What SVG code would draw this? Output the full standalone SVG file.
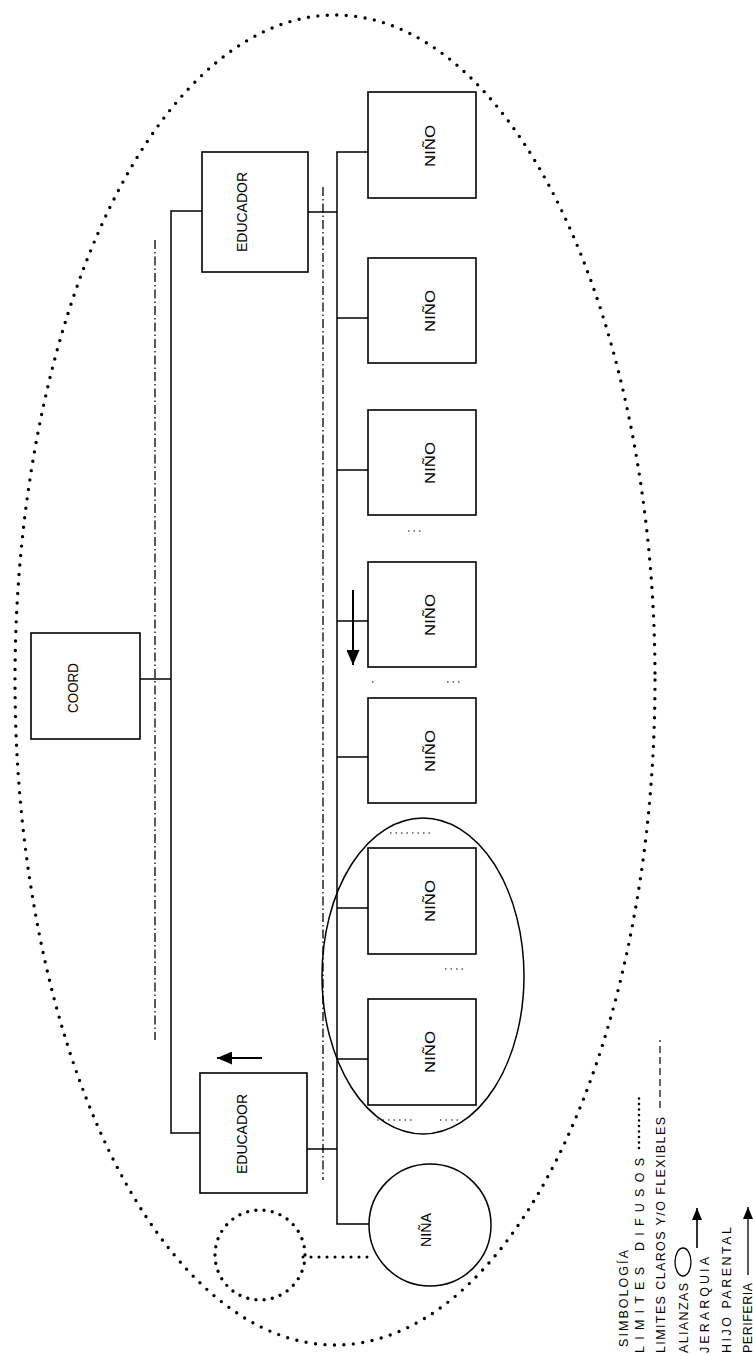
<svg xmlns="http://www.w3.org/2000/svg" width="753" height="1354" viewBox="0 0 753 1354">
<defs>
<style>
.box{fill:#fff;stroke:#000;stroke-width:1.6}
.ln{fill:none;stroke:#000;stroke-width:1.5}
.dd{fill:none;stroke:#000;stroke-width:1.3;stroke-dasharray:9 3 1.5 3}
.dot{fill:none;stroke:#000;stroke-width:3.4;stroke-linecap:round;stroke-dasharray:0 9.5}
.fine{fill:none;stroke:#000;stroke-width:1.2;stroke-dasharray:1.5 4}
.lbl{font-family:"Liberation Sans",Arial,sans-serif;font-size:15px;fill:#000}
.lg{font-family:"Liberation Sans",Arial,sans-serif;font-size:12.5px;fill:#000}
</style>
<marker id="ah" viewBox="0 0 15 13" refX="15" refY="6.5" markerWidth="15" markerHeight="13" markerUnits="userSpaceOnUse" orient="auto">
<path d="M0,0 L15,6.5 L0,13 z" fill="#000"/>
</marker>
<marker id="ahs" viewBox="0 0 12 10" refX="12" refY="5" markerWidth="12" markerHeight="10" markerUnits="userSpaceOnUse" orient="auto">
<path d="M0,0 L12,5 L0,10 z" fill="#000"/>
</marker>
</defs>
<rect width="753" height="1354" fill="#fff"/>

<!-- outer diffuse boundary -->
<ellipse id="periferia" cx="335" cy="680" rx="320" ry="665" class="dot"/>

<!-- boundaries (dash-dot) -->
<g id="limites">
<line x1="155" y1="240" x2="155" y2="1040" class="dd"/>
<line x1="323" y1="187" x2="323" y2="1180" class="dd"/>
<line x1="408" y1="531" x2="424" y2="531" class="fine"/>
<line x1="372" y1="682" x2="376" y2="682" class="fine"/>
<line x1="447" y1="682" x2="463" y2="682" class="fine"/>
<line x1="445" y1="969" x2="464" y2="969" class="fine"/>
<line x1="390" y1="833" x2="434" y2="833" class="fine"/>
<line x1="377" y1="1120" x2="415" y2="1120" class="fine"/>
<line x1="440" y1="1120" x2="460" y2="1120" class="fine"/>
</g>

<!-- connectors -->
<g id="connectors">
<polyline points="202,211 171,211 171,1133 200,1133" class="ln"/>
<line x1="140" y1="679" x2="171" y2="679" class="ln"/>
<line x1="308" y1="212" x2="337" y2="212" class="ln"/>
<line x1="307" y1="1149" x2="337" y2="1149" class="ln"/>
<polyline points="368,152 337,152 337,1224 369,1224" class="ln"/>
<line x1="337" y1="318" x2="368" y2="318" class="ln"/>
<line x1="337" y1="470" x2="368" y2="470" class="ln"/>
<line x1="337" y1="621" x2="368" y2="621" class="ln"/>
<line x1="337" y1="757" x2="368" y2="757" class="ln"/>
<line x1="337" y1="908" x2="368" y2="908" class="ln"/>
<line x1="337" y1="1059" x2="368" y2="1059" class="ln"/>
<line x1="303" y1="1257" x2="370" y2="1257" class="dot" style="stroke-width:3;stroke-dasharray:0 8"/>
<line x1="262" y1="1058" x2="217" y2="1058" class="ln" style="stroke-width:2" marker-end="url(#ah)"/>
<line x1="353" y1="590" x2="353" y2="665" class="ln" style="stroke-width:2" marker-end="url(#ah)"/>
</g>

<!-- alliance -->
<ellipse id="alianza" cx="423" cy="976" rx="101" ry="158" fill="none" stroke="#000" stroke-width="1.5"/>

<g id="coord"><rect x="31" y="633" width="109" height="106" class="box"/>
<text class="lbl" transform="translate(78,688) rotate(-90)" text-anchor="middle" textLength="50" lengthAdjust="spacingAndGlyphs">COORD</text></g>

<g id="educador1"><rect x="202" y="152" width="106" height="120" class="box"/>
<text class="lbl" transform="translate(247,212) rotate(-90)" text-anchor="middle" textLength="80" lengthAdjust="spacingAndGlyphs">EDUCADOR</text></g>

<g id="educador2"><rect x="200" y="1073" width="107" height="120" class="box"/>
<text class="lbl" transform="translate(247,1134) rotate(-90)" text-anchor="middle" textLength="80" lengthAdjust="spacingAndGlyphs">EDUCADOR</text></g>

<g id="nino1"><rect x="368" y="92" width="108" height="106" class="box"/>
<text class="lbl" transform="translate(435,146) rotate(-90)" text-anchor="middle" textLength="42" lengthAdjust="spacingAndGlyphs">NIÑO</text></g>
<g id="nino2"><rect x="368" y="258" width="108" height="105" class="box"/>
<text class="lbl" transform="translate(435,311) rotate(-90)" text-anchor="middle" textLength="42" lengthAdjust="spacingAndGlyphs">NIÑO</text></g>
<g id="nino3"><rect x="368" y="410" width="108" height="105" class="box"/>
<text class="lbl" transform="translate(435,463) rotate(-90)" text-anchor="middle" textLength="42" lengthAdjust="spacingAndGlyphs">NIÑO</text></g>
<g id="nino4"><rect x="368" y="562" width="108" height="105" class="box"/>
<text class="lbl" transform="translate(435,615) rotate(-90)" text-anchor="middle" textLength="42" lengthAdjust="spacingAndGlyphs">NIÑO</text></g>
<g id="nino5"><rect x="368" y="698" width="108" height="105" class="box"/>
<text class="lbl" transform="translate(435,751) rotate(-90)" text-anchor="middle" textLength="42" lengthAdjust="spacingAndGlyphs">NIÑO</text></g>
<g id="nino6"><rect x="368" y="848" width="108" height="106" class="box"/>
<text class="lbl" transform="translate(435,901) rotate(-90)" text-anchor="middle" textLength="42" lengthAdjust="spacingAndGlyphs">NIÑO</text></g>
<g id="nino7"><rect x="368" y="999" width="108" height="106" class="box"/>
<text class="lbl" transform="translate(435,1052) rotate(-90)" text-anchor="middle" textLength="42" lengthAdjust="spacingAndGlyphs">NIÑO</text></g>

<g id="nina"><circle cx="430" cy="1225" r="61" fill="#fff" stroke="#000" stroke-width="1.5"/>
<text class="lbl" transform="translate(431,1230) rotate(-90)" text-anchor="middle" textLength="34" lengthAdjust="spacingAndGlyphs">NIÑA</text></g>

<g id="externo"><circle cx="260" cy="1255" r="45" class="dot" style="stroke-dasharray:0 8.3"/></g>

<!-- legend -->
<g id="leyenda">
<text class="lg" transform="translate(628,1347) rotate(-90)" textLength="97" lengthAdjust="spacing">SIMBOLOGÍA</text>
<text class="lg" transform="translate(644,1353) rotate(-90)" textLength="195" lengthAdjust="spacing">LIMITES DIFUSOS</text>
<line x1="639" y1="1148" x2="639" y2="1093" class="dot" style="stroke-width:2.6;stroke-dasharray:0 5.5"/>
<text class="lg" transform="translate(665,1353) rotate(-90)" textLength="236" lengthAdjust="spacing">LIMITES CLAROS Y/O FLEXIBLES</text>
<line x1="660" y1="1108" x2="660" y2="1040" class="dd" style="stroke-width:1.2;stroke-dasharray:7 4"/>
<text class="lg" transform="translate(688,1353) rotate(-90)" textLength="70" lengthAdjust="spacing">ALIANZAS</text>
<ellipse cx="683" cy="1262" rx="8" ry="14" fill="none" stroke="#000" stroke-width="1.3"/>
<text class="lg" transform="translate(709,1353) rotate(-90)" textLength="96" lengthAdjust="spacing">JERARQUIA</text>
<line x1="697" y1="1248" x2="697" y2="1208" class="ln" style="stroke-width:1.6" marker-end="url(#ahs)"/>
<text class="lg" transform="translate(731,1353) rotate(-90)" textLength="126" lengthAdjust="spacing">HIJO PARENTAL</text>
<text class="lg" transform="translate(752,1353) rotate(-90)" textLength="70" lengthAdjust="spacing">PERIFERIA</text>
<line x1="748" y1="1275" x2="748" y2="1207" class="ln" style="stroke-width:1.3" marker-end="url(#ahs)"/>
</g>
</svg>
